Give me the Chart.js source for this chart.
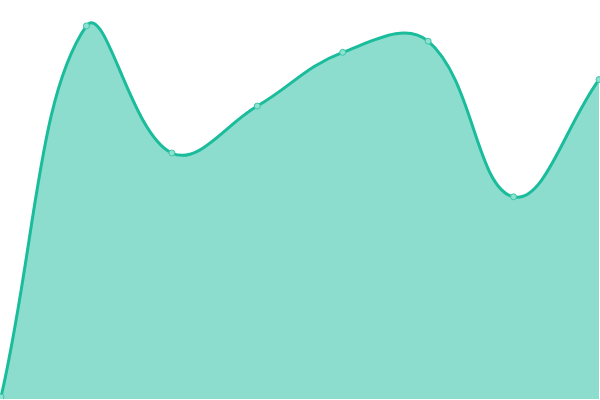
<!DOCTYPE html>
<html><head><meta charset="utf-8">
<script src="https://cdn.jsdelivr.net/npm/chart.js@4"></script>
<style>
html,body{margin:0;padding:0;background:#fff;overflow:hidden}
#outer{position:relative;width:600px;height:400px;overflow:hidden}
#wrap{position:absolute;left:-4px;top:-4px;width:608px;height:408px}
</style>
</head><body><div id="outer"><div id="wrap"><canvas id="c"></canvas></div></div>
<script>
const labels = ["A","B","C","D","E","F","G","H"];
const values = [0.5, 93.75, 61.8, 73.6, 87.1, 89.9, 50.8, 80.25];
const yMin = 0, yMax = 100;
new Chart(document.getElementById('c'), {
  type: 'line',
  data: { labels: labels, datasets: [{
    data: values,
    borderColor: '#1abc9c',
    backgroundColor: 'rgba(26,188,156,0.5)',
    borderWidth: 3,
    fill: 'start',
    tension: 0.4,
    pointRadius: 3,
    pointBackgroundColor: 'rgba(140,225,208,1)',
    pointBorderColor: '#3cc6a8',
    pointBorderWidth: 1
  }]},
  options: {
    responsive: true, maintainAspectRatio: false, animation: false,
    layout: { padding: 0 },
    plugins: { legend: { display: false }, tooltip: { enabled: false } },
    scales: {
      x: { display: false, offset: false },
      y: { display: false, min: yMin, max: yMax }
    }
  }
});
</script></body></html>
